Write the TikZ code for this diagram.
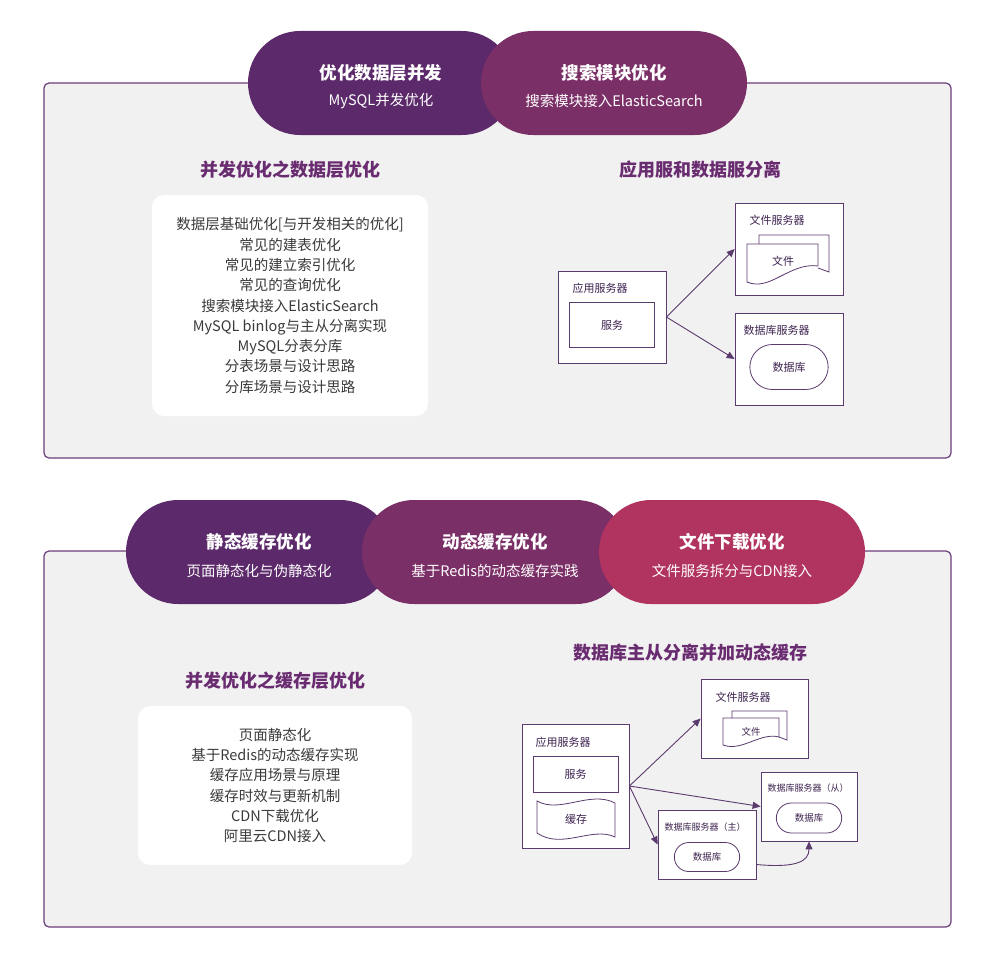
\documentclass[tikz,border=0pt]{standalone}
\usepackage{fontspec}
\setmainfont{Noto Sans CJK SC}
\usetikzlibrary{shapes.misc, arrows.meta, positioning, calc}
\definecolor{pillA}{RGB}{92, 42, 106}
\definecolor{pillB}{RGB}{123, 47, 103}
\definecolor{pillC}{RGB}{176, 52, 95}
\definecolor{panelgray}{RGB}{242, 241, 242}
\definecolor{panelline}{RGB}{107, 60, 122}
\definecolor{headpurple}{RGB}{106, 44, 112}
\definecolor{bodygray}{RGB}{58, 58, 58}
\definecolor{lineviolet}{RGB}{91, 58, 110}
\definecolor{labelviolet}{RGB}{62, 36, 80}
\tikzstyle{panel} = [draw=panelline, fill=panelgray, rounded corners=5pt, line width=1.2pt]
\tikzstyle{pill} = [rounded rectangle, minimum width=266pt, minimum height=104pt, inner sep=0pt]
\tikzstyle{pilltitle} = [text=white, font=\fontsize{17.5}{20}\selectfont\bfseries]
\tikzstyle{pillsub} = [text=white, font=\fontsize{14.5}{17}\selectfont]
\tikzstyle{heading} = [text=headpurple, font=\fontsize{18}{21}\selectfont\bfseries]
\tikzstyle{listbox} = [rectangle, fill=white, rounded corners=12pt, align=center, text=bodygray, font=\fontsize{14.5}{20.3}\selectfont]
\tikzstyle{server} = [rectangle, draw=lineviolet, fill=white, line width=0.8pt]
\tikzstyle{svc} = [rectangle, draw=lineviolet, fill=white, line width=0.8pt, text=labelviolet, font=\fontsize{11}{13}\selectfont]
\tikzstyle{store} = [rounded rectangle, draw=lineviolet, fill=white, line width=0.8pt, text=labelviolet, font=\fontsize{11}{13}\selectfont]
\tikzstyle{tag} = [anchor=west, text=labelviolet, font=\fontsize{11}{13}\selectfont]
\tikzstyle{arrow} = [-{Triangle[length=8pt,width=7pt]}, draw=lineviolet, line width=0.9pt]

\begin{document}
\begin{tikzpicture}[x=1pt, y=-1pt]
    \useasboundingbox[fill=white] (0,0) rectangle (1000,955);

    % Panels
    \draw[panel] (44,83) rectangle (951,458);
    \draw[panel] (44,551) rectangle (951,927);

    % Top pills
    \node[pill, fill=pillA] (pdata) at (381,83) {};
    \node[pill, fill=pillB] (psearch) at (614,83) {};
    \node[pilltitle] at ([yshift=10pt]pdata.center) {优化数据层并发};
    \node[pillsub] at ([yshift=-18pt]pdata.center) {MySQL并发优化};
    \node[pilltitle] at ([yshift=10pt]psearch.center) {搜索模块优化};
    \node[pillsub] at ([yshift=-18pt]psearch.center) {搜索模块接入ElasticSearch};

    % Data layer list
    \node[heading] (hdata) at (290,170) {并发优化之数据层优化};
    \node[listbox, minimum width=276pt, minimum height=221pt] (ldata) at (290,305.5) {数据层基础优化[与开发相关的优化]\\常见的建表优化\\常见的建立索引优化\\常见的查询优化\\搜索模块接入ElasticSearch\\MySQL binlog与主从分离实现\\MySQL分表分库\\分表场景与设计思路\\分库场景与设计思路};

    % App / data server split
    \node[heading] (hsplit) at (700,170) {应用服和数据服分离};
    \node[server, minimum width=108pt, minimum height=92pt] (app) at (612,317) {};
    \node[tag] at (569,288) {应用服务器};
    \node[svc, minimum width=85pt, minimum height=45pt] (svc) at (612,325) {服务};
    \node[server, minimum width=108pt, minimum height=92pt] (file) at (789,249) {};
    \node[tag] at (746,220) {文件服务器};
    \draw[lineviolet, line width=0.8pt, fill=white] (818,268) -- (829,272) -- (829,235) -- (759,235) -- (759,244);
    \draw[lineviolet, line width=0.8pt, fill=white] (747,244) -- (818,244) -- (818,266) .. controls (790,262) and (770,292) .. (747,282) -- cycle;
    \node[text=labelviolet, font=\fontsize{11}{13}\selectfont] (doc) at (783,261) {文件};
    \node[server, minimum width=108pt, minimum height=92pt] (db) at (789,359) {};
    \node[tag] at (740,330) {数据库服务器};
    \node[store, minimum width=85pt, minimum height=45pt] (store) at (789,367) {数据库};
    \draw[arrow] (app.east) -- (file.west);
    \draw[arrow] (app.east) -- (db.west);

    % Bottom pills
    \node[pill, fill=pillA] (pstatic) at (259,552) {};
    \node[pill, fill=pillB] (pdyn) at (495,552) {};
    \node[pill, fill=pillC] (pfile) at (732,552) {};
    \node[pilltitle] at ([yshift=10pt]pstatic.center) {静态缓存优化};
    \node[pillsub] at ([yshift=-19pt]pstatic.center) {页面静态化与伪静态化};
    \node[pilltitle] at ([yshift=10pt]pdyn.center) {动态缓存优化};
    \node[pillsub] at ([yshift=-19pt]pdyn.center) {基于Redis的动态缓存实践};
    \node[pilltitle] at ([yshift=10pt]pfile.center) {文件下载优化};
    \node[pillsub] at ([yshift=-19pt]pfile.center) {文件服务拆分与CDN接入};

    % Cache layer list
    \node[heading] (hcache) at (275,681) {并发优化之缓存层优化};
    \node[listbox, minimum width=274pt, minimum height=159pt] (lcache) at (275,785.5) {页面静态化\\基于Redis的动态缓存实现\\缓存应用场景与原理\\缓存时效与更新机制\\CDN下载优化\\阿里云CDN接入};

    % Master / slave with dynamic cache
    \node[heading] (hms) at (690,653) {数据库主从分离并加动态缓存};
    \node[server, minimum width=107pt, minimum height=124pt] (app2) at (575.5,786) {};
    \node[tag] at (532,742) {应用服务器};
    \node[svc, minimum width=85pt, minimum height=36pt] (svc2) at (575.5,774) {服务};
    \draw[lineviolet, line width=0.8pt, fill=white] (537,801) .. controls (560,814) and (590,790) .. (615,803) -- (615,837) .. controls (592,826) and (562,850) .. (537,833) -- cycle;
    \node[text=labelviolet, font=\fontsize{11}{13}\selectfont] (cache) at (576,819) {缓存};
    \node[server, minimum width=107pt, minimum height=79pt] (file2) at (754.5,718.5) {};
    \node[tag] at (712,697) {文件服务器};
    \draw[lineviolet, line width=0.8pt, fill=white] (779,737) -- (787,740) -- (787,711) -- (732,711) -- (732,718);
    \draw[lineviolet, line width=0.8pt, fill=white] (723,718) -- (779,718) -- (779,737) .. controls (760,732) and (742,752) .. (723,745) -- cycle;
    \node[text=labelviolet, font=\fontsize{9.5}{11}\selectfont] (doc2) at (751,732) {文件};
    \node[server, minimum width=96pt, minimum height=69pt] (slave) at (809,806.5) {};
    \node[tag, font=\fontsize{9}{11}\selectfont] at (764,788) {数据库服务器（从）};
    \node[store, minimum width=72pt, minimum height=30pt, font=\fontsize{9.5}{11}\selectfont] (sdb) at (809,818) {数据库};
    \node[server, minimum width=98pt, minimum height=69pt] (master) at (707,844.5) {};
    \node[tag, font=\fontsize{9}{11}\selectfont] at (661,827) {数据库服务器（主）};
    \node[store, minimum width=72pt, minimum height=29pt, font=\fontsize{9.5}{11}\selectfont] (mdb) at (707,857) {数据库};
    \draw[arrow] (app2.east) -- (file2.west);
    \draw[arrow] (app2.east) -- (slave.west);
    \draw[arrow] (app2.east) -- (master.west);
    \draw[arrow] ([yshift=-20pt]master.east) .. controls (795,868) and (809,862) .. (slave.south);
\end{tikzpicture}
\end{document}
